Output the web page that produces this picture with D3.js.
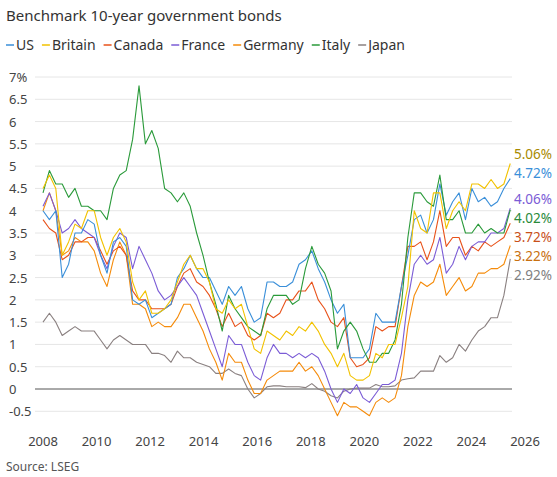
<!DOCTYPE html><html><head><script src="https://cdn.jsdelivr.net/npm/d3@7"></script>
<style>body{margin:0;background:#fff;font-family:"Noto Sans",sans-serif}</style></head><body><svg id="c" width="557" height="477"></svg>
<script>
const names=["US","Britain","Canada","France","Germany","Italy","Japan"];
const colors=["#3a8fd9","#f2c200","#e8521a","#7b5cd6","#f58b0a","#2a9a3a","#8a8080"];
const labelColors=["#3a8fd9","#a88a00","#c8501a","#7b5cd6","#c87010","#2a8a3a","#808080"];
const endLabels=["4.72%","5.06%","3.72%","4.06%","3.22%","4.02%","2.92%"];
const US=[4.0,3.8,4.0,2.5,2.8,3.5,3.5,3.8,3.7,3.0,2.6,3.3,3.4,3.2,2.0,1.9,2.0,1.6,1.7,1.8,1.9,2.5,2.7,3.0,2.7,2.5,2.5,2.2,1.9,2.3,2.1,2.3,1.8,1.5,1.6,2.4,2.4,2.3,2.3,2.4,2.8,2.9,3.1,2.7,2.4,2.0,1.7,1.9,0.7,0.7,0.7,0.9,1.7,1.5,1.5,1.5,2.3,3.0,3.8,3.9,3.5,3.8,4.6,3.9,4.2,4.4,3.8,4.5,4.2,4.3,4.1,4.2,4.5,4.72];
const Britain=[4.5,4.8,4.5,3.0,3.3,3.7,3.6,4.0,4.0,3.4,3.0,3.4,3.6,3.3,2.4,2.0,2.2,1.7,1.7,1.8,2.0,2.4,2.8,3.0,2.7,2.7,2.4,1.8,1.7,2.0,1.8,1.9,1.4,0.9,0.8,1.3,1.2,1.1,1.3,1.2,1.4,1.3,1.5,1.3,1.0,0.8,0.5,0.8,0.3,0.2,0.2,0.3,0.8,0.7,1.0,1.0,1.6,2.3,4.0,3.6,3.5,4.4,4.4,3.6,4.0,4.2,4.0,4.6,4.6,4.5,4.7,4.5,4.6,5.06];
const Canada=[3.8,3.6,3.5,2.9,3.0,3.3,3.3,3.4,3.4,3.1,2.8,3.1,3.2,3.0,2.2,2.0,2.0,1.8,1.8,1.8,1.9,2.3,2.6,2.7,2.4,2.3,2.1,1.8,1.4,1.7,1.4,1.5,1.2,1.1,1.2,1.7,1.6,1.7,2.0,2.0,2.2,2.2,2.4,2.0,1.8,1.5,1.4,1.6,0.7,0.5,0.55,0.7,1.4,1.3,1.4,1.4,2.3,3.2,3.2,3.3,2.9,3.3,4.0,3.2,3.4,3.4,3.0,3.2,3.1,3.3,3.2,3.3,3.4,3.72];
const France=[4.1,4.4,4.0,3.5,3.6,3.8,3.6,3.5,3.4,3.0,2.7,3.2,3.5,3.4,2.7,3.2,2.9,2.6,2.2,2.0,2.1,2.3,2.5,2.3,2.1,1.7,1.3,0.9,0.5,1.2,1.0,1.0,0.6,0.3,0.2,0.7,1.0,0.8,0.8,0.7,0.8,0.7,0.8,0.7,0.4,0.0,-0.3,0.0,-0.1,0.1,-0.2,-0.3,-0.1,0.1,0.1,0.2,0.8,2.0,2.8,3.0,2.8,2.9,3.4,2.6,2.8,3.2,2.9,3.2,3.3,3.3,3.5,3.5,3.6,4.06];
const Germany=[4.0,4.4,4.0,3.0,3.1,3.4,3.3,3.3,3.1,2.6,2.3,2.9,3.3,3.0,1.9,1.9,1.8,1.4,1.5,1.4,1.4,1.6,1.9,1.9,1.6,1.3,0.9,0.6,0.2,0.8,0.6,0.6,0.2,-0.1,-0.1,0.2,0.3,0.4,0.4,0.4,0.6,0.4,0.5,0.3,0.0,-0.3,-0.6,-0.3,-0.4,-0.4,-0.5,-0.6,-0.3,-0.2,-0.3,-0.2,0.3,1.4,2.1,2.4,2.3,2.4,2.8,2.1,2.3,2.5,2.2,2.3,2.6,2.6,2.7,2.7,2.8,3.22];
const Italy=[4.4,4.9,4.6,4.6,4.3,4.5,4.1,4.1,4.0,4.0,3.8,4.5,4.8,4.9,5.6,6.8,5.5,5.8,5.4,4.5,4.4,4.2,4.4,4.1,3.5,3.0,2.4,1.9,1.3,2.1,1.8,1.6,1.4,1.3,1.2,1.8,2.1,2.1,2.1,1.9,2.0,2.7,3.2,2.8,2.6,2.2,0.9,1.3,1.5,1.3,0.9,0.6,0.6,0.8,0.8,1.1,1.9,3.4,4.4,4.4,4.2,4.1,4.8,3.8,3.8,4.0,3.5,3.5,3.7,3.5,3.6,3.5,3.5,4.02];
const Japan=[1.5,1.7,1.5,1.2,1.3,1.4,1.3,1.3,1.3,1.1,0.9,1.1,1.2,1.1,1.0,1.0,1.0,0.8,0.8,0.75,0.6,0.85,0.7,0.7,0.6,0.55,0.5,0.35,0.35,0.45,0.35,0.3,0.0,-0.2,-0.1,0.05,0.07,0.07,0.05,0.05,0.05,0.03,0.12,0.0,-0.05,-0.15,-0.2,-0.05,0.0,0.02,0.02,0.02,0.1,0.05,0.05,0.07,0.2,0.23,0.25,0.4,0.4,0.4,0.75,0.6,0.7,1.0,0.85,1.1,1.3,1.4,1.6,1.6,2.1,2.92];
const series=[US,Britain,Canada,France,Germany,Italy,Japan];
const yTicks=[-0.5,0,0.5,1,1.5,2,2.5,3,3.5,4,4.5,5,5.5,6,6.5,7];
const xTicks=[2008,2010,2012,2014,2016,2018,2020,2022,2024,2026];
const svg=d3.select("#c");
const x=d3.scaleLinear().domain([2008,2026]).range([43,525]);
const y=d3.scaleLinear().domain([0,7]).range([389,77]);
const date=i=>2008+i*(17.45/73);
svg.append("text").attr("x",6).attr("y",21).attr("font-size",15).attr("fill","#333").text("Benchmark 10-year government bonds");
let lx=6;
names.forEach((n,i)=>{const g=svg.append("g");
 g.append("line").attr("x1",lx).attr("x2",lx+8).attr("y1",45).attr("y2",45).attr("stroke",colors[i]).attr("stroke-width",1.5);
 const t=g.append("text").attr("x",lx+10).attr("y",50).attr("font-size",14).attr("fill","#333").text(n);
 lx+=10+t.node().getComputedTextLength()+8;});
yTicks.forEach(v=>{svg.append("line").attr("x1",35).attr("x2",512).attr("y1",y(v)).attr("y2",y(v)).attr("stroke",v===0?"#555":"#e6e6e6").attr("stroke-width",1);
 svg.append("text").attr("x",9).attr("y",y(v)+5).attr("font-size",13).attr("fill","#444").text(v+(v===7?"%":""));});
xTicks.forEach(v=>svg.append("text").attr("x",x(v)).attr("y",446).attr("text-anchor","middle").attr("font-size",13).attr("fill","#444").text(v));
const line=d3.line().x((d,i)=>x(date(i))).y(d=>y(d));
[6,4,2,3,0,5,1].forEach(k=>svg.append("path").attr("d",line(series[k])).attr("fill","none").attr("stroke",colors[k]).attr("stroke-width",1.1).attr("stroke-linejoin","round"));
const labs=series.map((s,k)=>({k,y:y(s[s.length-1])-9})).sort((a,b)=>a.y-b.y);
for(let i=1;i<labs.length;i++) if(labs[i].y<labs[i-1].y+19) labs[i].y=labs[i-1].y+19;
labs.forEach(l=>svg.append("text").attr("x",514).attr("y",l.y+5).attr("font-size",13.5).attr("fill",labelColors[l.k]).text(endLabels[l.k]));
svg.append("text").attr("x",6).attr("y",471).attr("font-size",12).attr("fill","#555").text("Source: LSEG");
</script></body></html>
